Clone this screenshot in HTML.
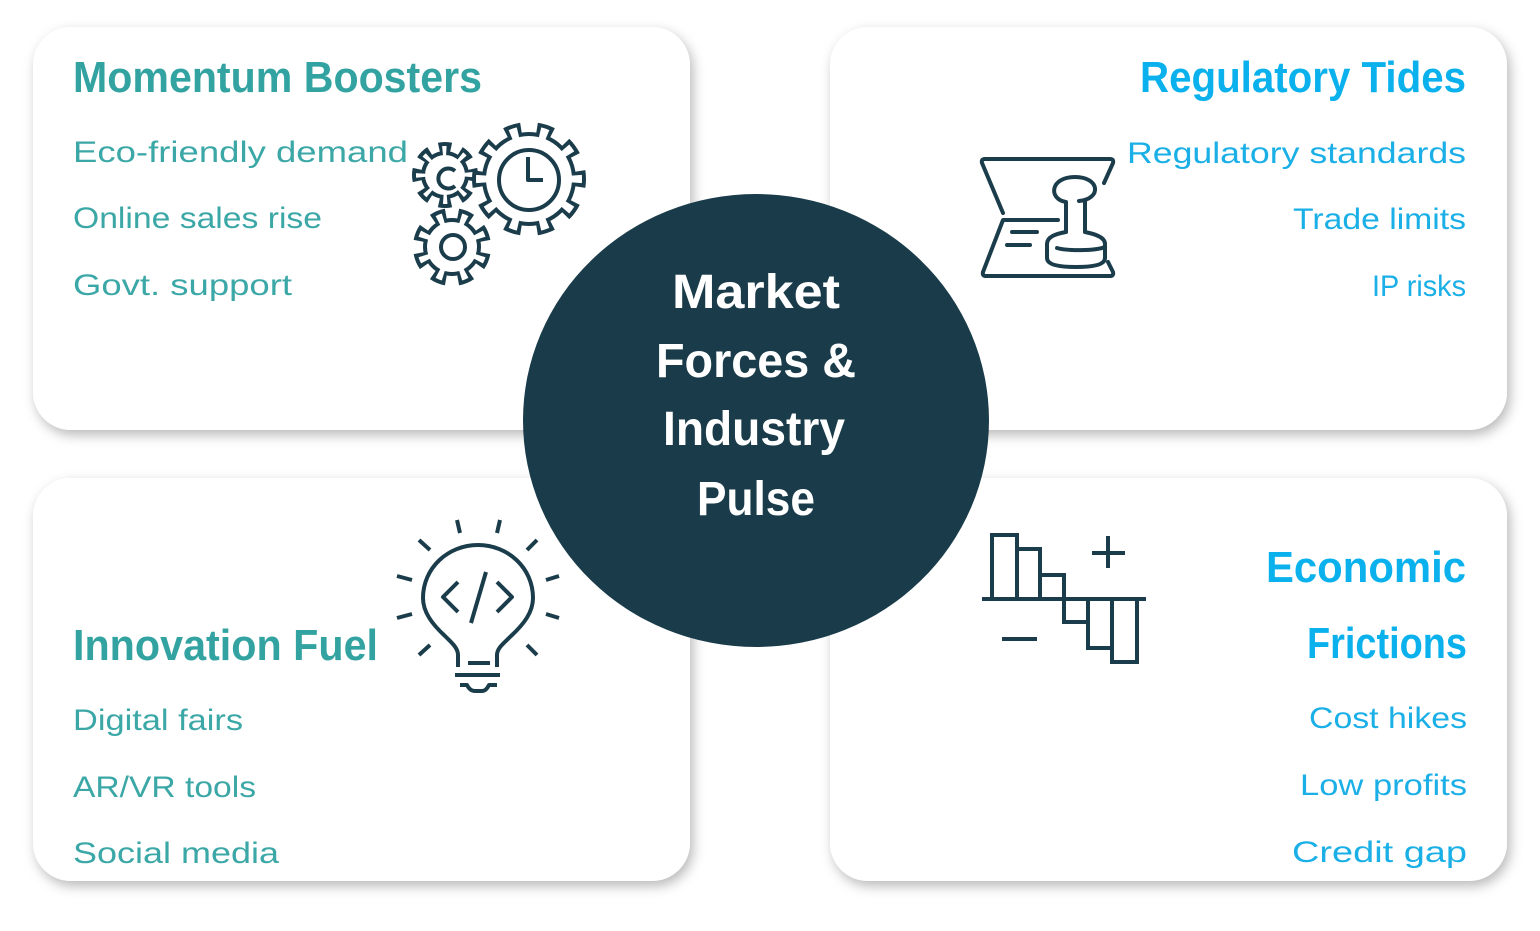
<!DOCTYPE html>
<html><head><meta charset="utf-8"><style>
html,body{margin:0;padding:0;background:#fff;width:1540px;height:931px;overflow:hidden}
svg{display:block}
text{font-family:"Liberation Sans",sans-serif}
.t{font-weight:bold;font-size:44px}
.i{font-size:30px}
.tl{fill:#33a3a2}.tli{fill:#3ba7a6}
.bl{fill:#0ab1ec}.bli{fill:#1aafe6}
.ic{fill:none;stroke:#1b3d4b;stroke-width:4;stroke-linecap:butt;stroke-linejoin:round}
</style></head><body>
<svg width="1540" height="931" viewBox="0 0 1540 931" xmlns="http://www.w3.org/2000/svg">
<defs>
<filter id="sh" x="-10%" y="-10%" width="120%" height="125%">
<feDropShadow dx="3" dy="5" stdDeviation="6" flood-color="#000" flood-opacity="0.28"/>
</filter>
</defs>
<!-- cards -->
<rect x="33" y="27" width="657" height="403" rx="38" fill="#fff" filter="url(#sh)"/>
<rect x="830" y="27" width="677" height="403" rx="38" fill="#fff" filter="url(#sh)"/>
<rect x="33" y="478" width="657" height="403" rx="38" fill="#fff" filter="url(#sh)"/>
<rect x="830" y="478" width="677" height="403" rx="38" fill="#fff" filter="url(#sh)"/>

<!-- titles -->
<text class="t tl" x="73" y="92" textLength="409" lengthAdjust="spacingAndGlyphs">Momentum Boosters</text>
<text class="t bl" x="1466" y="92" text-anchor="end" textLength="326" lengthAdjust="spacingAndGlyphs">Regulatory Tides</text>
<text class="t tl" x="73" y="660" textLength="305" lengthAdjust="spacingAndGlyphs">Innovation Fuel</text>
<text class="t bl" x="1466" y="582" text-anchor="end" textLength="200" lengthAdjust="spacingAndGlyphs">Economic</text>
<text class="t bl" x="1467" y="658" text-anchor="end" textLength="160" lengthAdjust="spacingAndGlyphs">Frictions</text>

<!-- items -->
<text class="i tli" x="73" y="162" textLength="335" lengthAdjust="spacingAndGlyphs">Eco-friendly demand</text>
<text class="i tli" x="73" y="228" textLength="249" lengthAdjust="spacingAndGlyphs">Online sales rise</text>
<text class="i tli" x="73" y="295" textLength="219" lengthAdjust="spacingAndGlyphs">Govt. support</text>
<text class="i bli" x="1466" y="163" text-anchor="end" textLength="339" lengthAdjust="spacingAndGlyphs">Regulatory standards</text>
<text class="i bli" x="1466" y="229" text-anchor="end" textLength="173" lengthAdjust="spacingAndGlyphs">Trade limits</text>
<text class="i bli" x="1466" y="296" text-anchor="end" textLength="94" lengthAdjust="spacingAndGlyphs">IP risks</text>
<text class="i tli" x="73" y="730" textLength="170" lengthAdjust="spacingAndGlyphs">Digital fairs</text>
<text class="i tli" x="73" y="797" textLength="183" lengthAdjust="spacingAndGlyphs">AR/VR tools</text>
<text class="i tli" x="73" y="863" textLength="206" lengthAdjust="spacingAndGlyphs">Social media</text>
<text class="i bli" x="1467" y="728" text-anchor="end" textLength="158" lengthAdjust="spacingAndGlyphs">Cost hikes</text>
<text class="i bli" x="1467" y="795" text-anchor="end" textLength="167" lengthAdjust="spacingAndGlyphs">Low profits</text>
<text class="i bli" x="1467" y="862" text-anchor="end" textLength="175" lengthAdjust="spacingAndGlyphs">Credit gap</text>

<!-- gears -->
<g>
  <!-- lower gear -->
  <circle cx="452" cy="247" r="29" fill="#1b3d4b"/>
  <circle cx="452" cy="247" r="33" fill="none" stroke="#1b3d4b" stroke-width="12" pathLength="360" stroke-dasharray="24 21" stroke-dashoffset="-10.5"/>
  <circle cx="452" cy="247" r="25" fill="#fff"/>
  <circle cx="452" cy="247" r="29" fill="none" stroke="#fff" stroke-width="12" pathLength="360" stroke-dasharray="11 34" stroke-dashoffset="-17"/>
  <circle cx="453" cy="247" r="12" class="ic"/>
  <!-- upper small gear -->
  <circle cx="445" cy="175" r="24" fill="#1b3d4b"/>
  <circle cx="445" cy="175" r="27.5" fill="none" stroke="#1b3d4b" stroke-width="11" pathLength="360" stroke-dasharray="25 20" stroke-dashoffset="12.5"/>
  <circle cx="445" cy="175" r="20" fill="#fff"/>
  <circle cx="445" cy="175" r="23.5" fill="none" stroke="#fff" stroke-width="11" pathLength="360" stroke-dasharray="9.2 35.8" stroke-dashoffset="4.6"/>
  <path class="ic" d="M455,171 A10,10 0 1,0 455,186"/>
  <!-- big gear -->
  <circle cx="529" cy="179" r="47" fill="#1b3d4b"/>
  <circle cx="529" cy="179" r="51" fill="none" stroke="#1b3d4b" stroke-width="12" pathLength="360" stroke-dasharray="18 18" stroke-dashoffset="9"/>
  <circle cx="529" cy="179" r="43" fill="#fff"/>
  <circle cx="529" cy="179" r="47" fill="none" stroke="#fff" stroke-width="12" pathLength="360" stroke-dasharray="9.2 26.8" stroke-dashoffset="4.6"/>
  <circle cx="529" cy="180" r="30" class="ic"/>
  <path class="ic" d="M528,157 V180 H543"/>
</g>

<!-- stamp -->
<g class="ic" style="stroke-linecap:round">
  <path d="M1003,213 L982,163 Q981,159 985,159 L1110,159 Q1114,159 1113,163 L1104,183"/>
  <path d="M1058,220 L1003,220 L983,272 Q982,276 986,276 L1110,276 Q1114,276 1113,272 L1108,262"/>
  <path d="M1012,232 H1037 M1007,245 H1030"/>
  <path d="M1066,231 V202 C1048,199 1050,177 1075,177 C1100,177 1102,199 1079,201 M1085,201 V231"/>
  <path d="M1066,232 C1055,234 1047,237 1047,244 V258 C1047,265 1060,267 1076,267 C1092,267 1105,265 1105,258 V244 C1105,237 1095,234 1085,232"/>
  <path d="M1057,248 C1067,251 1095,251 1105,247"/>
</g>

<!-- central circle -->
<ellipse cx="756" cy="420.5" rx="233" ry="226.5" fill="#1a3c4a"/>
<g fill="#fff" font-weight="bold" font-size="48" text-anchor="middle">
<text x="756" y="308" textLength="168" lengthAdjust="spacingAndGlyphs">Market</text>
<text x="756" y="377" textLength="200" lengthAdjust="spacingAndGlyphs">Forces &amp;</text>
<text x="754" y="445" textLength="182" lengthAdjust="spacingAndGlyphs">Industry</text>
<text x="756" y="515" textLength="118" lengthAdjust="spacingAndGlyphs">Pulse</text>
</g>

<!-- bulb -->
<g class="ic">
  <path d="M458,667 V655 C458,648 452,643 445,636 C432,624 423,612 423,598 C423,568 448,545 478,545 C508,545 533,568 533,598 C533,612 524,624 511,636 C504,643 497,648 497,655 V667"/>
  <path d="M468,663 H490 M455,675 H500 M460,685 H467 Q470,691 475,691 H482 Q486,691 489,685 H497"/>
  <path d="M458,582 L443,597 L458,612 M497,582 L512,597 L497,612 M486,572 L471,623"/>
  <path d="M457,520 L460,533 M500,520 L497,533 M419,540 L430,550 M537,540 L527,550 M397,576 L412,580 M559,576 L546,580 M397,618 L412,614 M559,618 L546,614 M419,655 L430,645 M537,655 L527,645"/>
</g>

<!-- chart -->
<g class="ic" style="stroke-linejoin:miter">
  <path d="M992,599 V535 H1017 V599 M1017,549 H1040 V599 M1040,575 H1064 V599"/>
  <path d="M1064,599 V622 H1088 V599 M1088,622 V648 H1112 V599 M1112,648 V662 H1137 V599"/>
  <path d="M982,599 H1146"/>
  <path d="M1092,553 H1125 M1108,536 V568 M1002,639 H1037"/>
</g>
</svg>
</body></html>
